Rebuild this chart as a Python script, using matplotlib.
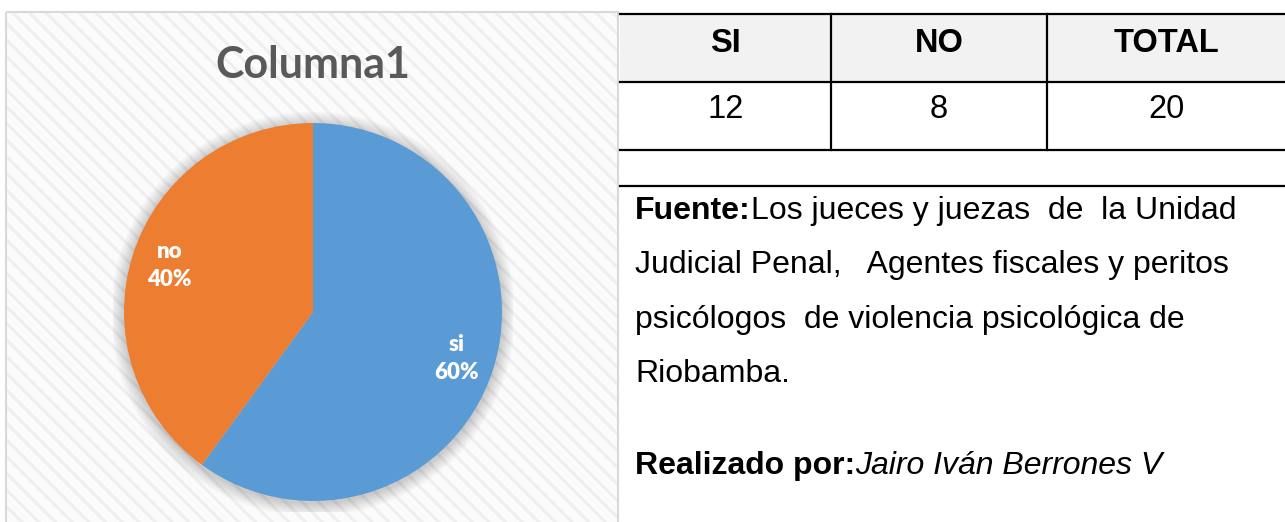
import matplotlib
matplotlib.use("Agg")
import matplotlib.pyplot as plt
from matplotlib.patches import Rectangle, Circle
from matplotlib.lines import Line2D

# ---- data ----
categories = ["si", "no"]
values = [12, 8]
title = "Columna1"
table_header = ["SI", "NO", "TOTAL"]
table_values = ["12", "8", "20"]
source_bold = "Fuente:"
source_lines = ["Los jueces y juezas  de  la Unidad",
                "Judicial Penal,   Agentes fiscales y peritos",
                "psicólogos  de violencia psicológica de",
                "Riobamba."]
author_bold = "Realizado por:"
author_name = "Jairo Iván Berrones V"

colors = ["#5B9BD5", "#ED7D31"]

W, H = 1285, 522
plt.rcParams["hatch.linewidth"] = 2.2
fig = plt.figure(figsize=(W / 100, H / 100), dpi=100)
fig.patch.set_facecolor("white")

def fx(x):
    return x / W

def fy(y):
    return 1 - y / H

# ---- chart area background ----
bg = fig.add_axes([0, 0, 1, 1])
bg.set_xlim(0, W)
bg.set_ylim(H, 0)
bg.axis("off")
bg.add_patch(Rectangle((6, 12), 612, 520, facecolor="#fbfbfb",
                       edgecolor="#efefef", hatch="\\\\", linewidth=0))
bg.add_patch(Rectangle((6, 12), 612, 520, fill=False,
                       edgecolor="#d9d9d9", linewidth=1.5))

# ---- pie ----
cx, cy, r = 313, 312, 189
half = 200
pax = fig.add_axes([fx(cx - half), fy(cy + half), 2 * half / W, 2 * half / H])
lim = half / r
pax.set_xlim(-lim, lim)
pax.set_ylim(-lim, lim)
pax.set_aspect("equal")
pax.axis("off")
# soft shadow
for i in range(12):
    rr = 1.0 + 0.006 * (12 - i)
    pax.add_patch(Circle((0, -0.01), rr, facecolor="#000000", alpha=0.015,
                         linewidth=0, zorder=0))
wedges, texts, autotexts = pax.pie(
    values, colors=colors, startangle=90, counterclock=False, radius=1,
    labels=None, autopct=lambda p: "", pctdistance=0.8,
    wedgeprops=dict(linewidth=0), frame=False)
pax.set_xlim(-lim, lim)
pax.set_ylim(-lim, lim)
total = sum(values)
for cat, v, at in zip(categories, values, autotexts):
    at.set_text(f"{cat}\n{round(100 * v / total)}%")
    at.set_color("white")
    at.set_fontfamily("Lato")
    at.set_fontweight("heavy")
    at.set_fontsize(16)
    at.set_linespacing(1.4)
    at.set_ha("center")
    at.set_va("center")

fig.text(fx(313), fy(65), title, ha="center", va="center", fontsize=31,
         fontfamily="Lato", fontweight="bold", color="#595959")

# ---- table ----
tx0, tx1 = 620, 1285
cols = [620, 831, 1047, 1285]
bg.add_patch(Rectangle((tx0, 14), tx1 - tx0, 68, facecolor="#f2f2f2",
                       edgecolor="none"))
for y in [14, 82, 150, 186]:
    bg.add_line(Line2D([tx0, tx1], [y, y], color="black", linewidth=1.6))
for x in cols[1:3]:
    bg.add_line(Line2D([x, x], [14, 150], color="black", linewidth=1.6))
for i in range(3):
    xc = (cols[i] + cols[i + 1]) / 2
    bg.text(xc, 52, table_header[i], ha="center", va="baseline",
            fontsize=23.5, fontweight="bold", fontfamily="Liberation Sans",
            color="black")
    bg.text(xc, 118, table_values[i], ha="center", va="baseline",
            fontsize=23.5, fontfamily="Liberation Sans", color="black")

# ---- source text ----
tfs = 23
xl = 635
baselines = [219, 273, 328, 382]
t = bg.text(xl, baselines[0], source_bold, ha="left", va="baseline",
            fontsize=tfs, fontweight="bold", fontfamily="Liberation Sans")
fig.canvas.draw()
renderer = fig.canvas.get_renderer()
bb = t.get_window_extent(renderer)
wbold = bb.width
bg.text(xl + wbold, baselines[0], source_lines[0], ha="left", va="baseline",
        fontsize=tfs, fontfamily="Liberation Sans")
for ln, yb in zip(source_lines[1:], baselines[1:]):
    bg.text(xl, yb, ln, ha="left", va="baseline", fontsize=tfs,
            fontfamily="Liberation Sans")
t2 = bg.text(xl, 474, author_bold, ha="left", va="baseline", fontsize=tfs,
             fontweight="bold", fontfamily="Liberation Sans")
bb2 = t2.get_window_extent(renderer)
bg.text(xl + bb2.width, 474, author_name, ha="left", va="baseline",
        fontsize=tfs, fontstyle="italic", fontfamily="Liberation Sans")

fig.savefig("out.png", dpi=100, facecolor="white")
